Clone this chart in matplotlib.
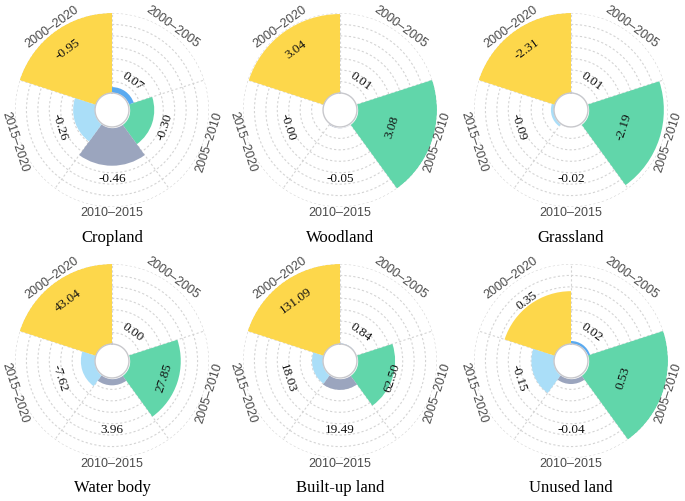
#!/usr/bin/env python3
"""Six polar 'rose' panels: land-use change per period, one panel per land type."""
import numpy as np
import matplotlib
matplotlib.use("Agg")
import matplotlib.pyplot as plt

periods = ["2000\u20132005", "2005\u20132010", "2010\u20132015", "2015\u20132020", "2000\u20132020"]
colors = ["#5AAAF0", "#61D6AA", "#9BA5BE", "#AADEF8", "#FDD74B"]

land_types = ["Cropland", "Woodland", "Grassland", "Water body", "Built-up land", "Unused land"]
cropland = [0.07, -0.30, -0.46, -0.26, -0.95]
woodland = [0.01, 3.08, -0.05, -0.00, 3.04]
grassland = [0.01, -2.19, -0.02, -0.09, -2.31]
water_body = [0.00, 27.85, 3.96, -7.62, 43.04]
built_up = [0.84, 62.50, 19.49, 18.03, 131.09]
unused = [0.02, 0.53, -0.04, -0.15, 0.35]
values = [cropland, woodland, grassland, water_body, built_up, unused]
# printed labels (keeps "-0.00")
value_labels = [
    ["0.07", "-0.30", "-0.46", "-0.26", "-0.95"],
    ["0.01", "3.08", "-0.05", "-0.00", "3.04"],
    ["0.01", "-2.19", "-0.02", "-0.09", "-2.31"],
    ["0.00", "27.85", "3.96", "-7.62", "43.04"],
    ["0.84", "62.50", "19.49", "18.03", "131.09"],
    ["0.02", "0.53", "-0.04", "-0.15", "0.35"],
]

# layout (pixels in a 685x501 figure)
W, H = 685, 501
centers_x = [112, 340, 571]
centers_y = [110, 361]
R = 97
title_y = [238, 488]
r0 = 0.175                                 # inner hole, fraction of outer radius
label_r = [0.36, 0.57, 0.71, 0.57, 0.77]   # radius of value labels per sector
n_rings = 7

serif = ["Liberation Serif", "DejaVu Serif"]
sans = ["Liberation Sans", "DejaVu Sans"]

fig = plt.figure(figsize=(W / 100, H / 100), dpi=100)

n = len(periods)
width = 2 * np.pi / n
theta = np.arange(n) * width + width / 2
centers_deg = 90 - np.degrees(theta)      # screen angle of each sector centre


def tangent_rot(a):
    rot = a - 90
    rot = (rot + 180) % 360 - 180
    if rot < -90:
        rot += 180
    elif rot > 90:
        rot -= 180
    return rot


for k, (name, vals, labs) in enumerate(zip(land_types, values, value_labels)):
    row, col = divmod(k, 3)
    cx, cy = centers_x[col], centers_y[row]
    ax = fig.add_axes([(cx - R) / W, (H - cy - R) / H, 2 * R / W, 2 * R / H],
                      projection="polar")
    ax.set_theta_zero_location("N")
    ax.set_theta_direction(-1)
    ax.set_ylim(0, 1)
    ax.set_axisbelow(True)

    v = np.abs(np.array(vals))
    heights = v / v.max() * (1 - r0)
    ax.bar(theta, heights, width=width, bottom=r0, color=colors, edgecolor="none",
           zorder=2)

    # grid
    ax.set_yticks(r0 + np.arange(1, n_rings + 1) * (1 - r0) / n_rings)
    ax.set_yticklabels([])
    ax.set_xticks(np.arange(n) * width)
    ax.set_xticklabels([])
    ax.grid(True, color="#d4d4d4", linestyle=(0, (2, 2)), linewidth=0.8)
    ax.spines["polar"].set_visible(False)

    # hole
    tt = np.linspace(0, 2 * np.pi, 200)
    ax.fill_between(tt, 0, r0, color="white", zorder=3)
    ax.plot(tt, np.full_like(tt, r0), color="#c8c8cc", lw=1.0, zorder=4)

    for i in range(n):
        rot = tangent_rot(centers_deg[i])
        ax.text(theta[i], 1.058, periods[i], rotation=rot, rotation_mode="anchor",
                ha="center", va="center", fontsize=9, color="#4a4a4a",
                family=sans)
        ax.text(theta[i], label_r[i], labs[i], rotation=rot, rotation_mode="anchor",
                ha="center", va="center", fontsize=9.5, color="#111111",
                family=serif, zorder=5)

    fig.text(cx / W, 1 - title_y[row] / H, name, ha="center", va="center",
             fontsize=12, family=serif)

fig.savefig("out.png", dpi=100)
